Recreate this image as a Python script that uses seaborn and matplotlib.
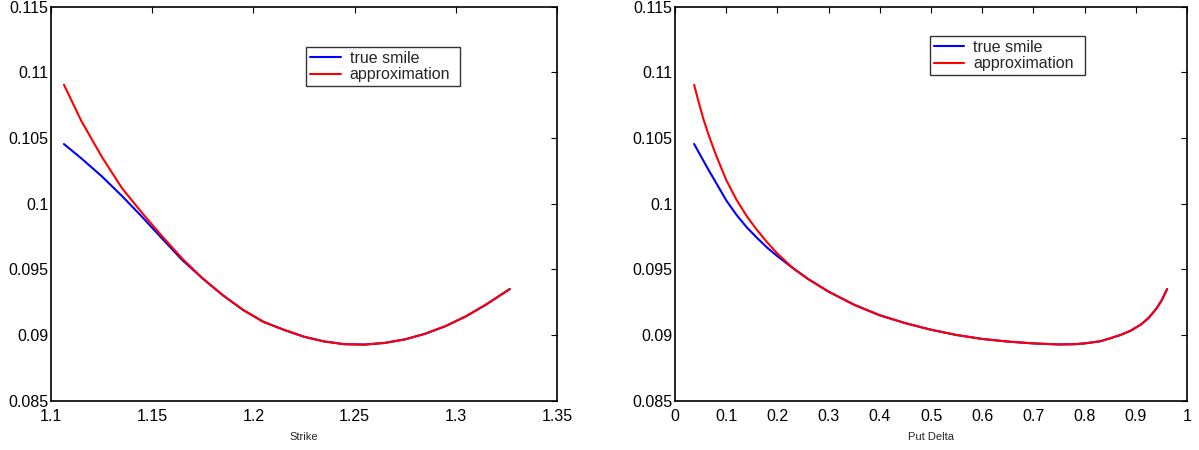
import numpy as np
import pandas as pd
import seaborn as sns
import matplotlib.pyplot as plt
from matplotlib.ticker import FixedLocator, FixedFormatter

# left panel: smile against strike
strike = [1.1064, 1.115, 1.125, 1.135, 1.145, 1.155, 1.165, 1.175, 1.185, 1.195,
          1.205, 1.215, 1.225, 1.235, 1.245, 1.255, 1.265, 1.275, 1.285, 1.295,
          1.305, 1.315, 1.3267]
true_strike = [0.10454, 0.10345, 0.1021, 0.1006, 0.0990, 0.09733, 0.09569, 0.0943, 0.09302, 0.0919,
               0.0910, 0.0904, 0.08987, 0.08951, 0.0893, 0.08927, 0.0894, 0.08967, 0.0901, 0.09068,
               0.09142, 0.09232, 0.0935]
approx_strike = [0.10906, 0.1063, 0.1036, 0.1012, 0.0993, 0.0975, 0.0958, 0.0943, 0.09302, 0.0919,
                 0.0910, 0.0904, 0.08987, 0.08951, 0.0893, 0.08927, 0.0894, 0.08967, 0.0901, 0.09068,
                 0.09142, 0.09232, 0.0935]

# right panel: smile against put delta
delta = [0.0373, 0.045, 0.055, 0.065, 0.08, 0.10, 0.12, 0.14, 0.16, 0.18, 0.20, 0.23,
         0.26, 0.30, 0.35, 0.40, 0.45, 0.50, 0.55, 0.60, 0.65, 0.70, 0.75, 0.78, 0.80,
         0.83, 0.85, 0.87, 0.89, 0.91, 0.925, 0.94, 0.95, 0.9612]
true_delta = [0.10455, 0.1040, 0.1033, 0.1026, 0.1016, 0.10025, 0.09915, 0.0982, 0.0974, 0.09665,
              0.0960, 0.0951, 0.09426, 0.0933, 0.0923, 0.0915, 0.0909, 0.0904, 0.0900, 0.0897,
              0.0895, 0.08936, 0.08928, 0.0893, 0.08936, 0.08952, 0.08975, 0.0900, 0.09033, 0.0908,
              0.0913, 0.0920, 0.0926, 0.0935]
approx_delta = [0.10905, 0.1079, 0.1065, 0.1053, 0.1037, 0.1018, 0.1003, 0.09905, 0.0980, 0.09705,
                0.0962, 0.0951, 0.09426, 0.0933, 0.0923, 0.0915, 0.0909, 0.0904, 0.0900, 0.0897,
                0.0895, 0.08936, 0.08928, 0.0893, 0.08936, 0.08952, 0.08975, 0.0900, 0.09033, 0.0908,
                0.0913, 0.0920, 0.0926, 0.0935]

y_ticks = [0.085, 0.09, 0.095, 0.1, 0.105, 0.11, 0.115]
y_labels = ["0.085", "0.09", "0.095", "0.1", "0.105", "0.11", "0.115"]
strike_ticks = [1.1, 1.15, 1.2, 1.25, 1.3, 1.35]
strike_labels = ["1.1", "1.15", "1.2", "1.25", "1.3", "1.35"]
delta_ticks = [0, 0.1, 0.2, 0.3, 0.4, 0.5, 0.6, 0.7, 0.8, 0.9, 1]
delta_labels = ["0", "0.1", "0.2", "0.3", "0.4", "0.5", "0.6", "0.7", "0.8", "0.9", "1"]

sns.set_style("white")
plt.rcParams['font.family'] = ['Liberation Sans', 'DejaVu Sans']

fig = plt.figure(figsize=(11.99, 4.5), dpi=100)
ax1 = fig.add_axes([0.0425, 0.1096, 0.422, 0.8756])
ax2 = fig.add_axes([0.563, 0.1096, 0.427, 0.8756])

# legend box in axes fractions: x0, y0, width, height (upper left is the anchor)
panels = [
    (ax1, strike, true_strike, approx_strike, (1.1, 1.35), strike_ticks, strike_labels, "Strike",
     (0.505, 0.80, 0.304, 0.098)),
    (ax2, delta, true_delta, approx_delta, (0, 1), delta_ticks, delta_labels, "Put Delta",
     (0.498, 0.826, 0.303, 0.100)),
]

for ax, x, yt, ya, xlim, xt, xl, xlabel, leg_box in panels:
    sns.lineplot(x=x, y=yt, ax=ax, color=(0, 0, 1), lw=1.5, label="true smile", sort=False)
    sns.lineplot(x=x, y=ya, ax=ax, color=(1, 0, 0), lw=1.5, label="approximation", sort=False)
    ax.set_xlim(*xlim)
    ax.set_ylim(0.085, 0.115)
    ax.xaxis.set_major_locator(FixedLocator(xt))
    ax.xaxis.set_major_formatter(FixedFormatter(xl))
    ax.yaxis.set_major_locator(FixedLocator(y_ticks))
    ax.yaxis.set_major_formatter(FixedFormatter(y_labels))
    ax.tick_params(direction="in", length=4, width=0.8, top=True, right=True,
                   labelsize=11.5, colors="black")
    ax.tick_params(axis="x", pad=6)
    ax.tick_params(axis="y", pad=2)
    for sp in ax.spines.values():
        sp.set_color("black")
        sp.set_linewidth(1.2)
    ax.set_xlabel(xlabel, fontsize=8, labelpad=6)
    ax.set_ylabel("")
    leg = ax.legend(loc="upper left", bbox_to_anchor=leg_box, mode="expand", fontsize=11.5,
                    frameon=True, fancybox=False, handlelength=1.9, borderpad=0.25,
                    labelspacing=0.1, handletextpad=0.55, borderaxespad=0)
    leg.get_frame().set_edgecolor("black")
    leg.get_frame().set_linewidth(1.0)

plt.savefig("out.png", dpi=100)
